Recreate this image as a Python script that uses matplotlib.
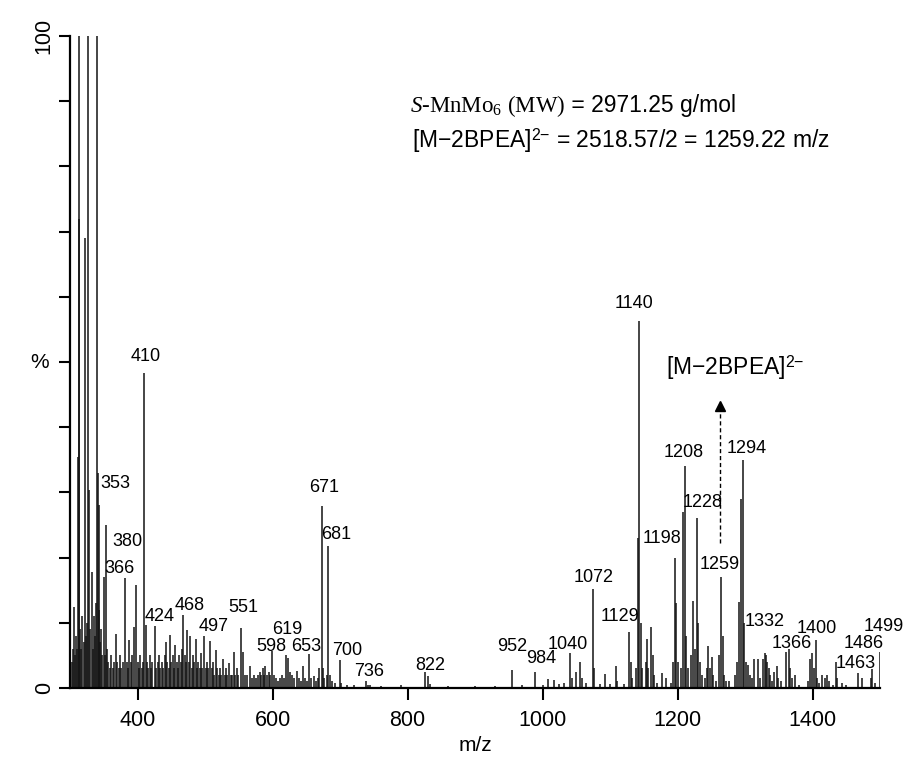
import matplotlib
matplotlib.use('Agg')
import matplotlib.pyplot as plt

#### DATA #######################################
# stick spectrum: m/z and relative intensity (%)
mz_low = [303, 304.5, 306, 307.5, 309, 310.5, 312, 313, 314, 315.5, 317, 318.5,
          320, 322, 323.5, 325, 327, 328.7, 330, 332, 333.5, 335, 336.5, 338.5,
          340, 341.5, 342.5, 343.5, 345, 346.5, 348, 350, 351.5, 354, 355.5, 357,
          359, 361, 363, 365, 368, 370, 372, 374, 376, 378, 382, 384, 386, 388,
          390, 392, 395, 398, 400, 402, 404, 406, 408, 410, 412, 414, 416, 418,
          420, 422, 425.5, 428, 430, 432, 434, 436, 438, 440, 442.5, 444, 446,
          448.5, 450, 452, 454, 456, 458, 460, 462, 464, 466, 468, 470, 472, 474,
          476, 478, 480, 482, 484, 486.5, 488, 490, 492, 494, 496, 499, 501, 503,
          505, 508, 510, 512, 514, 516, 518, 520, 522, 524, 527, 529, 531, 533,
          536, 538, 540, 543, 545, 547, 549, 554, 557, 559, 562, 566, 569, 572,
          575, 578, 581, 583, 585.5, 587, 589.5, 592, 595, 597, 599.5, 602, 605,
          608, 611, 614, 617, 620, 623, 626, 629, 632, 636.5, 639, 642, 645, 648,
          651, 654, 657, 661, 664, 667, 669, 672.7, 675, 677, 680, 682.6, 685,
          688, 692, 699.4]
int_low = [4, 6, 12.5, 5, 8, 6, 35.5, 130, 72, 9, 6, 11,
           7, 69, 8, 10, 130, 30.4, 9, 17.8, 6, 11, 8, 13,
           130, 33, 28, 12, 7, 9, 5, 17, 5, 25, 6, 4,
           3, 5, 3, 4, 8.3, 4, 3, 5, 3, 4, 16.9, 4, 3, 7.4,
           4, 5, 9.4, 15.8, 4, 3, 5, 3, 4, 48.3, 9.7, 4, 3, 5,
           3, 4, 9.5, 3, 4, 5, 3, 4, 3, 5, 7.1, 4, 3,
           8.1, 4, 5, 3, 6.6, 4, 3, 5, 4, 6, 11.2, 5, 4, 8.9,
           4, 7.9, 3, 5, 4, 7.5, 3, 4, 3, 5.4, 3, 7.9, 3, 4,
           3, 7.2, 3, 4, 2, 5.8, 3, 2, 3, 2, 4.4, 2, 3, 2,
           3.9, 2, 2, 5.5, 2, 3, 2, 9.2, 5.5, 2, 2, 3.4, 1.5, 2,
           1.5, 2, 2.5, 2, 3.1, 2, 3.3, 2, 2.5, 2, 5.6, 2, 1.5,
           1, 1.5, 2, 1.5, 5.1, 4.6, 2.5, 2, 1.5, 2.6, 1.5, 1, 3.3, 1.5,
           1, 5.2, 1.5, 1.9, 1, 1.5, 3, 27.9, 3, 1.5, 2, 21.8, 2,
           1, 0.8, 4.3]

mz_mid = [702, 710, 720, 738, 741, 744.6, 760, 790, 826.6, 831, 833, 860, 900,
          930, 954.8, 970, 989, 1000, 1008, 1016.7, 1025, 1032, 1041, 1044,
          1049, 1056, 1058, 1065, 1075, 1077, 1085, 1093, 1100, 1109, 1111, 1120]
int_mid = [0.8, 0.5, 0.4, 1, 0.5, 0.5, 0.3, 0.4, 2.4, 1.9, 0.6, 0.3, 0.3,
           0.3, 2.8, 0.4, 2.5, 0.5, 1.4, 1.2, 0.6, 0.8, 5.4, 1.5,
           2.4, 4, 1.5, 0.8, 15.2, 3, 0.6, 2.1, 0.6, 3.4, 1, 0.6]

mz_high = [1128.5, 1131, 1133, 1138, 1141, 1143.5, 1146, 1148, 1153, 1155, 1157,
           1161, 1163, 1165, 1170, 1177, 1183, 1190, 1194, 1196.8, 1198.5, 1201,
           1205, 1208, 1210.6, 1213, 1216, 1220, 1223.5, 1226, 1229, 1231, 1233,
           1236, 1240, 1243, 1245, 1248, 1251, 1253, 1257, 1262, 1265, 1267,
           1269, 1272, 1277, 1285, 1288, 1291.4, 1294, 1297, 1299, 1302, 1304.7,
           1307, 1310, 1313.6, 1318.6, 1322, 1326, 1329, 1331, 1333, 1335, 1337,
           1340, 1343, 1347, 1349, 1353, 1360, 1365, 1367, 1370, 1374, 1380,
           1393, 1396, 1398.7, 1402, 1405, 1407, 1410, 1414.6, 1418, 1421, 1424,
           1430, 1434.4, 1437, 1443, 1450, 1467, 1473, 1486, 1488, 1493, 1500.6]
int_high = [8.6, 4, 1.5, 3, 23, 56.3, 10, 3, 4, 7.5, 3,
            9.4, 5, 2, 0.8, 2.3, 1.6, 0.8, 4, 20, 13, 4,
            3, 27, 34, 8, 3, 5, 13.4, 6, 26, 10, 4,
            2, 1.5, 3, 6.4, 3, 4.8, 2, 1, 5, 17, 8,
            2, 1, 1, 2, 4, 13.2, 29, 34.9, 10, 4, 3.5,
            2, 1.5, 4.4, 4.5, 1.5, 4.5, 5.4, 5, 4, 3, 2,
            1, 2.5, 3.3, 1.5, 1, 5.5, 6, 3, 1.6, 2, 0.5,
            1, 4.5, 5.4, 3, 7.4, 1.5, 0.8, 2, 1.5, 2, 1,
            0.5, 4, 1.5, 0.7, 0.5, 2.3, 1.5, 1.5, 2.9, 0.7, 5.5]

# peak labels: text, label centre (m/z, %)
peak_labels = ['410', '353', '380', '366', '424', '468', '497', '551', '598',
               '619', '653', '671', '681', '700', '736', '822', '952', '984',
               '1040', '1072', '1129', '1140', '1198', '1208', '1228', '1259',
               '1294', '1332', '1366', '1400', '1463', '1486', '1499']
label_x = [412.8, 366.8, 384.6, 372.8, 432.1, 476.7, 512.3, 556.9, 598.4,
           622.2, 650.4, 677.1, 695.0, 711.3, 743.5, 833.0, 954.8, 997.9,
           1037.9, 1075.1, 1115.2, 1135.8, 1177.4, 1208.6, 1237.9, 1262.1,
           1302.2, 1328.9, 1369.0, 1406.9, 1464.1, 1475.9, 1505.6]
label_y = [50.9, 31.3, 22.5, 18.4, 11.0, 12.6, 9.4, 12.3, 6.4,
           8.9, 6.4, 30.7, 23.6, 5.8, 2.5, 3.5, 6.3, 4.6,
           6.7, 17.0, 10.9, 59.0, 22.9, 36.1, 28.4, 19.0,
           36.7, 10.2, 6.9, 9.2, 3.8, 6.9, 9.4]

X_TICKS = [400, 600, 800, 1000, 1200, 1400]
ARROW_MZ = 1263

#### STYLE ######################################
plt.rcParams['font.family'] = ['Liberation Sans', 'DejaVu Sans']
plt.rcParams['mathtext.fontset'] = 'custom'
plt.rcParams['mathtext.rm'] = 'Liberation Serif'
plt.rcParams['mathtext.it'] = 'Liberation Serif:italic'
plt.rcParams['mathtext.sf'] = 'Liberation Sans'

PEAK_COLOR = '#141414'
CHARGE = '$^{\\mathsf{2{\u2212}}}$'

#### PLOT #######################################
fig = plt.figure(figsize=(9.05, 7.64), dpi=100)
ax = fig.add_axes([70 / 905, 76 / 764, 810 / 905, 652 / 764])

mz = mz_low + mz_mid + mz_high
inten = int_low + int_mid + int_high
ax.vlines(mz, 0, inten, colors=PEAK_COLOR, linewidth=1.1)

ax.set_xlim(300, 1500)
ax.set_ylim(0, 100)

for side in ['top', 'right']:
    ax.spines[side].set_visible(False)
for side in ['left', 'bottom']:
    ax.spines[side].set_linewidth(1.6)

ax.set_xticks(X_TICKS)
ax.set_xticklabels([str(t) for t in X_TICKS])
ax.set_yticks(range(0, 101, 10))
ax.set_yticklabels(['0'] + [''] * 9 + ['100'])
ax.tick_params(axis='x', direction='out', length=8.5, width=1.5,
               labelsize=15.5, pad=7)
ax.tick_params(axis='y', direction='out', length=8, width=1.5,
               labelsize=15.5, pad=3, labelrotation=90)
for lab in ax.get_yticklabels():
    lab.set_va('center')

ax.set_xlabel('m/z', fontsize=15, labelpad=4)
ax.set_ylabel('%', fontsize=15, rotation=0, va='center', ha='center')
ax.yaxis.set_label_coords(-0.037, 0.5)

for txt, lx, ly in zip(peak_labels, label_x, label_y):
    ax.text(lx, ly, txt, ha='center', va='center', fontsize=13)

# header
t1 = ax.text(803, 88.3, r'$\mathit{S}$-MnMo$_6$ (MW)', fontsize=16.5,
             family='Liberation Serif', ha='left', va='baseline')
ax.annotate(' = 2971.25 g/mol', xy=(1, 88.3), xycoords=(t1, 'data'),
            fontsize=16.5, ha='left', va='baseline')
ax.text(807, 82.8, '[M\u22122BPEA]' + CHARGE + ' = 2518.57/2 = 1259.22 m/z',
        fontsize=16.5, ha='left', va='baseline')

# [M-2BPEA]2- marker
ax.text(1285.9, 49.1, '[M\u22122BPEA]' + CHARGE, fontsize=16.5,
        ha='center', va='center')
ax.plot([ARROW_MZ, ARROW_MZ], [22.2, 43.0], color='black', linewidth=1.0,
        linestyle=(0, (3, 2)))
ax.plot([ARROW_MZ], [43.2], marker='^', markersize=6.5, color='black')

fig.savefig('out.png', dpi=100)
